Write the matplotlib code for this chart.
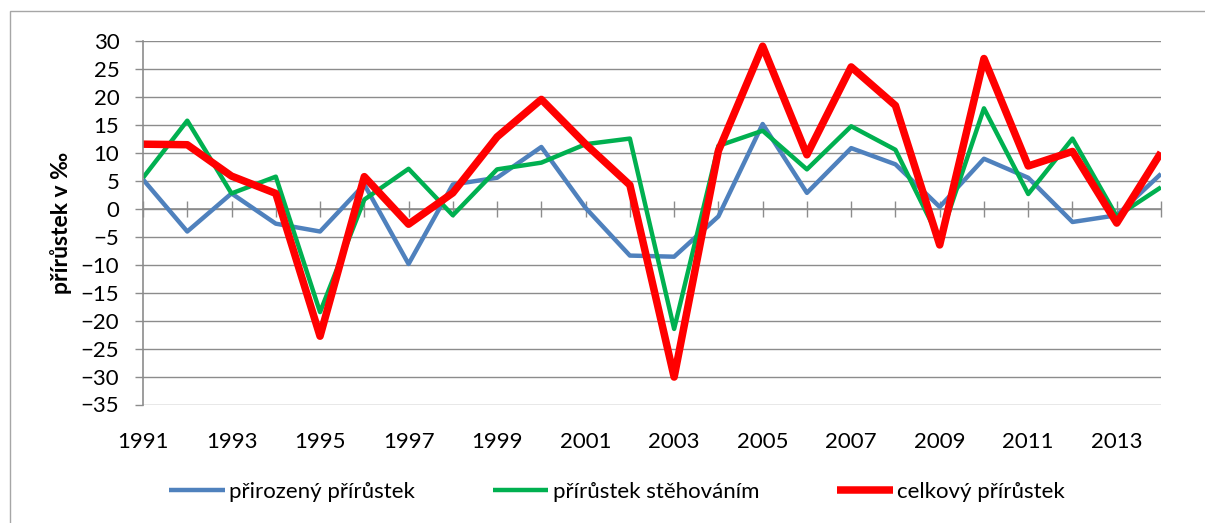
import matplotlib.pyplot as plt
from matplotlib.patches import Rectangle

years = list(range(1991, 2015))

prirozeny = [5.2, -4.1, 2.7, -2.7, -4.1, 4.3, -9.9, 4.3, 5.5, 11.0, 0.1, -8.4,
             -8.6, -1.4, 15.1, 2.8, 10.8, 7.9, 0.3, 8.9, 5.5, -2.4, -1.2, 6.2]
stehovani = [5.5, 15.7, 2.7, 5.7, -18.5, 1.6, 7.1, -1.2, 7.0, 8.2, 11.5, 12.5,
             -21.5, 11.2, 13.9, 7.0, 14.7, 10.5, -5.5, 17.9, 2.6, 12.5, -1.4, 3.8]
celkovy = [11.5, 11.4, 5.8, 2.7, -22.8, 5.7, -2.8, 2.8, 12.8, 19.5, 11.5, 4.2,
           -30.1, 10.3, 29.0, 9.6, 25.3, 18.4, -6.5, 26.8, 7.6, 10.2, -2.6, 10.0]

labels = ['přirozený přírůstek', 'přírůstek stěhováním', 'celkový přírůstek']
colors = ['#4F81BD', '#00B050', '#FF0000']

plt.rcParams['font.family'] = ['Lato', 'DejaVu Sans']
plt.rcParams['font.size'] = 16

fig = plt.figure(figsize=(12.05, 5.23), dpi=100)
fig.patches.append(Rectangle((10 / 1205, -0.1), 1.2, 1 - 11 / 523 + 0.1,
                             transform=fig.transFigure, fill=False,
                             edgecolor='#a6a6a6', linewidth=1.0))

ax = fig.add_axes([143 / 1205, 1 - 404.5 / 523, (1161 - 143) / 1205, (404.5 - 40.6) / 523])
grid_c = '#8c8c8c'

style = dict(solid_joinstyle='round', solid_capstyle='butt')
ax.plot(years, prirozeny, color=colors[0], lw=3.2, label=labels[0], **style)
ax.plot(years, stehovani, color=colors[1], lw=3.2, label=labels[1], **style)
ax.plot(years, celkovy, color=colors[2], lw=5.4, label=labels[2], **style)

ax.set_xlim(1991, 2014)
ax.set_ylim(-35, 30)
ax.set_yticks(range(-35, 31, 5))
ax.yaxis.grid(True, color=grid_c, lw=1.0)
ax.set_axisbelow(True)

for s in ['top', 'right', 'bottom']:
    ax.spines[s].set_visible(False)
ax.spines['left'].set_color(grid_c)
ax.spines['left'].set_linewidth(1.2)
ax.tick_params(axis='y', length=6, width=1.0, color=grid_c, pad=11, labelsize=16)

ax.set_xticks(range(1991, 2015, 2))
ax.tick_params(axis='x', length=0, pad=20, labelsize=16)

# horizontal axis crossing at zero with tick marks every year
zero_pos = (0 - (-35)) / 65
sec = ax.secondary_xaxis(zero_pos)
sec.set_xticks(years)
sec.tick_params(axis='x', direction='inout', length=11, width=1.0, color=grid_c, labelbottom=False,
                labeltop=False)
sec.spines['top'].set_color(grid_c)
sec.spines['bottom'].set_color(grid_c)
sec.spines['top'].set_linewidth(1.2)

ax.set_ylabel('přírůstek v ‰', fontweight='bold', fontsize=16.5)
ax.yaxis.set_label_coords(-71 / 1018, 0.5)

fig.legend(loc='center', bbox_to_anchor=(617 / 1205, 1 - 492 / 523), ncol=3, frameon=False,
           fontsize=16, handlelength=2.5, handletextpad=0.2, columnspacing=3.5)

fig.savefig('out.png', dpi=100)
